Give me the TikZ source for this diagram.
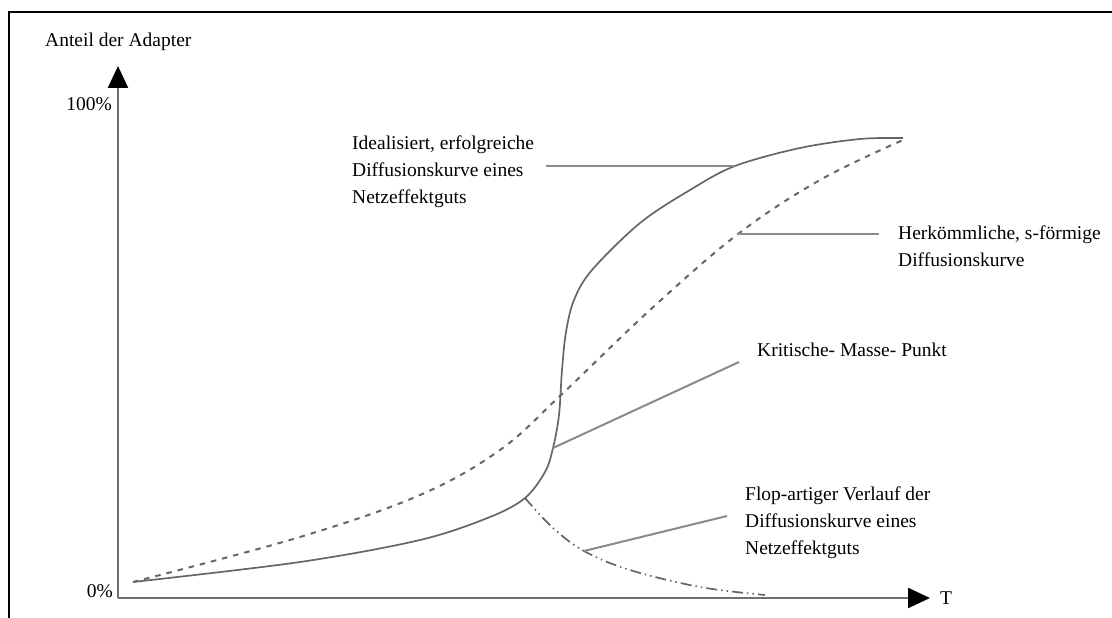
\documentclass[tikz,border=0pt]{standalone}
\usepackage{fontspec}
\setmainfont{Liberation Serif}
\usetikzlibrary{arrows.meta}
\definecolor{axisgray}{HTML}{707070}
\definecolor{curvegray}{HTML}{666666}
\definecolor{leadgray}{HTML}{8A8A8A}
\tikzset{
  axis/.style={draw=axisgray, line width=2.4pt, -{Triangle[length=22pt,width=20pt,black]}},
  solidcurve/.style={draw=curvegray, line width=1.7pt},
  dashcurve/.style={draw=curvegray, line width=2pt, dash pattern=on 5.5pt off 6pt},
  flopcurve/.style={draw=curvegray, line width=1.7pt, dash pattern=on 11pt off 4pt on 1.5pt off 4pt on 1.5pt off 4pt},
  leader/.style={draw=leadgray, line width=2pt},
  lbl/.style={anchor=west, align=left, inner sep=0pt, font=\fontsize{19.5}{27}\selectfont},
  ticklbl/.style={anchor=east, inner sep=0pt, font=\fontsize{19.5}{22}\selectfont}
}
\begin{document}
\begin{tikzpicture}[x=1pt,y=-1pt]
\useasboundingbox (0,0) rectangle (1112,618);
% frame
\draw[black, line width=2pt] (9,618) -- (9,12) -- (1112,12);
% axes
\coordinate (O) at (118,598);
\coordinate (ytop) at (118,66);
\coordinate (xend) at (930,598);
\draw[axis] (O) -- (ytop);
\draw[axis] (O) -- (xend);
\node[lbl] (ylab) at (45,42) {Anteil der Adapter};
\node[ticklbl] (p100) at (112,104) {100\%};
\node[ticklbl] (p0) at (113,591) {0\%};
\node[lbl] (tlab) at (940,598) {T};
% curve anchor points
\coordinate (cstart) at (133,582);
\coordinate (kink) at (525,498);
\coordinate (crit) at (553,448);
\coordinate (ideal) at (735,166);
\coordinate (herk) at (738,234);
\coordinate (flop) at (584,551);
\coordinate (cend) at (903,138);
% idealized curve
\draw[solidcurve] plot[smooth, tension=0.55] coordinates {(133,582) (300,562) (420,540) (490,517) (525,498) (545,472) (553,448) (559,415) (562,370) (566,332) (574,300) (592,270) (640,223) (690,190) (735,166) (800,148) (860,139) (903,138)};
% conventional s-curve
\draw[dashcurve] plot[smooth, tension=0.6] coordinates {(133,582) (300,537) (420,495) (500,450) (561,395) (650,310) (738,234) (820,180) (903,140)};
% flop curve
\draw[flopcurve] plot[smooth, tension=0.6] coordinates {(525,498) (552,527) (584,551) (630,570) (700,587) (765,595)};
% leader lines and labels
\coordinate (l1) at (546,166);
\coordinate (l2) at (879,234);
\coordinate (l3) at (739,362);
\coordinate (l4) at (727,516);
\draw[leader] (l1) -- (ideal);
\draw[leader] (herk) -- (l2);
\draw[leader] (crit) -- (l3);
\draw[leader] (flop) -- (l4);
\node[lbl] (t1) at (352,172) {Idealisiert, erfolgreiche\\Diffusionskurve eines\\Netzeffektguts};
\node[lbl] (t2) at (898,246) {Herkömmliche, s-förmige\\Diffusionskurve};
\node[lbl] (t3) at (757,350) {Kritische- Masse- Punkt};
\node[lbl] (t4) at (745,523) {Flop-artiger Verlauf der\\Diffusionskurve eines\\Netzeffektguts};
\end{tikzpicture}
\end{document}
